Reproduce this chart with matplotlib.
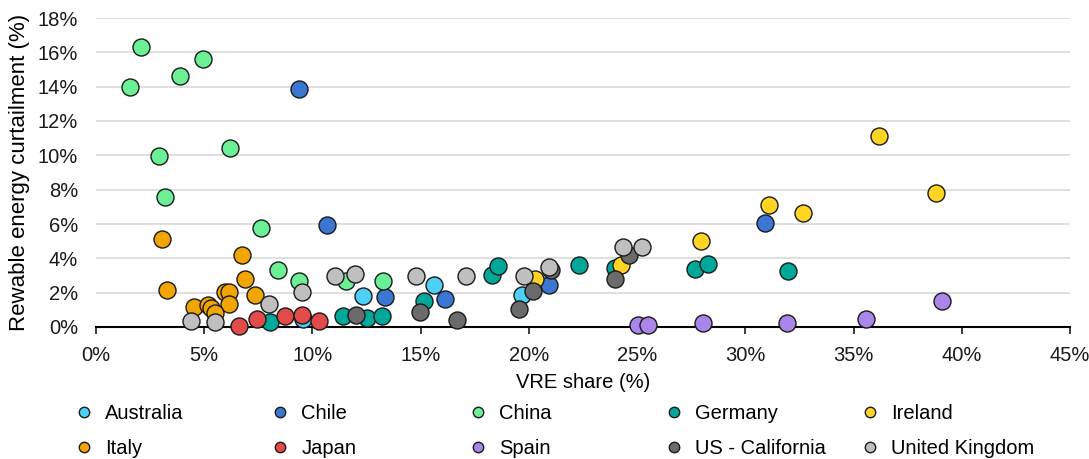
import matplotlib.pyplot as plt
from matplotlib.lines import Line2D

plt.rcParams['font.family'] = ['Liberation Sans', 'DejaVu Sans']

# VRE share (%) and curtailment (%) per country
australia_x = [9.58, 12.32, 15.62, 19.66]
australia_y = [0.45, 1.82, 2.47, 1.86]

chile_x = [9.37, 10.69, 13.35, 16.13, 20.93, 30.91]
chile_y = [13.88, 5.96, 1.73, 1.65, 2.43, 6.08]

china_x = [1.57, 2.06, 3.87, 4.93, 2.91, 3.19, 6.21, 7.62, 8.43, 9.40, 11.54, 13.28]
china_y = [13.96, 16.33, 14.62, 15.63, 9.96, 7.59, 10.41, 5.77, 3.32, 2.68, 2.68, 2.70]

germany_x = [8.04, 11.43, 12.51, 13.22, 15.17, 18.28, 18.55, 22.33, 24.00, 27.66, 28.28, 31.98]
germany_y = [0.27, 0.62, 0.51, 0.66, 1.53, 3.03, 3.55, 3.63, 3.42, 3.38, 3.67, 3.24]

ireland_x = [20.30, 24.24, 27.94, 31.11, 32.65, 36.17, 38.80]
ireland_y = [2.82, 3.59, 5.03, 7.12, 6.62, 11.12, 7.80]

italy_x = [3.07, 3.28, 6.73, 6.90, 7.33, 5.98, 6.16, 6.13, 4.53, 5.19, 5.30, 5.50]
italy_y = [5.11, 2.14, 4.19, 2.78, 1.86, 2.06, 2.06, 1.32, 1.18, 1.28, 1.09, 0.80]

japan_x = [6.61, 7.45, 8.73, 9.53, 10.29]
japan_y = [0.06, 0.47, 0.64, 0.70, 0.35]

spain_x = [25.06, 25.49, 28.06, 31.93, 35.57, 39.08]
spain_y = [0.10, 0.10, 0.25, 0.21, 0.45, 1.51]

us_ca_x = [12.00, 14.97, 16.67, 19.56, 20.21, 21.01, 24.00, 24.64]
us_ca_y = [0.68, 0.87, 0.43, 1.05, 2.12, 3.32, 2.78, 4.21]

uk_x = [4.37, 5.51, 7.98, 9.53, 11.04, 11.95, 14.79, 17.10, 19.78, 20.95, 24.34, 25.21]
uk_y = [0.37, 0.27, 1.34, 2.02, 2.97, 3.09, 2.99, 2.97, 2.97, 3.51, 4.66, 4.64]

series = [
    ('Australia', australia_x, australia_y, '#4DD0F7'),
    ('Chile', chile_x, chile_y, '#3A76D2'),
    ('China', china_x, china_y, '#6BF096'),
    ('Germany', germany_x, germany_y, '#00A89A'),
    ('Ireland', ireland_x, ireland_y, '#FFD423'),
    ('Italy', italy_x, italy_y, '#F0A500'),
    ('Japan', japan_x, japan_y, '#E34A4A'),
    ('Spain', spain_x, spain_y, '#AA85EA'),
    ('US - California', us_ca_x, us_ca_y, '#6B6B6B'),
    ('United Kingdom', uk_x, uk_y, '#BFBFBF'),
]

fs = 14.5

fig = plt.figure(figsize=(10.89, 4.59), dpi=100)
ax = fig.add_axes([96/1089, 1 - 327/459, 974/1089, 309/459])

for name, xs, ys, col in series:
    ax.scatter(xs, ys, s=150, c=col, edgecolors='#1a1a1a', linewidths=1.0,
               zorder=3, clip_on=False)

ax.set_xlim(0, 45)
ax.set_ylim(0, 18)
ax.set_xticks(range(0, 46, 5))
ax.set_xticklabels([f'{v}%' for v in range(0, 46, 5)])
ax.set_yticks(range(0, 19, 2))
ax.set_yticklabels([f'{v}%' for v in range(0, 19, 2)])
ax.tick_params(axis='both', labelsize=fs, colors='#1a1a1a')
ax.tick_params(axis='y', length=0, pad=13)
ax.tick_params(axis='x', length=5, width=1.2, direction='out', pad=9)
ax.grid(axis='y', color='#d9d9d9', linewidth=1.2, zorder=0)
ax.set_axisbelow(True)
for side in ['left', 'right', 'top']:
    ax.spines[side].set_visible(False)
ax.spines['bottom'].set_linewidth(1.5)
ax.spines['bottom'].set_zorder(2)

ax.set_xlabel('VRE share (%)', fontsize=fs, va='center')
ax.set_ylabel('Rewable energy curtailment (%)', fontsize=16, va='center')
ax.xaxis.set_label_coords(0.5, (327 - 382) / 309)
ax.yaxis.set_label_coords((20 - 96) / 974, 0.5)

# legend: five fixed-width columns, two rows each
col_x = [67, 263, 461, 657, 853]
for i, cx in enumerate(col_x):
    handles = []
    for name, xs, ys, col in (series[i], series[i + 5]):
        handles.append(Line2D([], [], marker='o', linestyle='', markersize=7.5,
                              markerfacecolor=col, markeredgecolor='#1a1a1a',
                              markeredgewidth=1.0, label=name))
    fig.legend(handles=handles, loc='upper left',
               bbox_to_anchor=(cx/1089, 1 - 396/459), frameon=False,
               fontsize=fs, handletextpad=0.6, labelspacing=0.8,
               borderaxespad=0, handlelength=0.9)

fig.savefig('out.png', dpi=100)
